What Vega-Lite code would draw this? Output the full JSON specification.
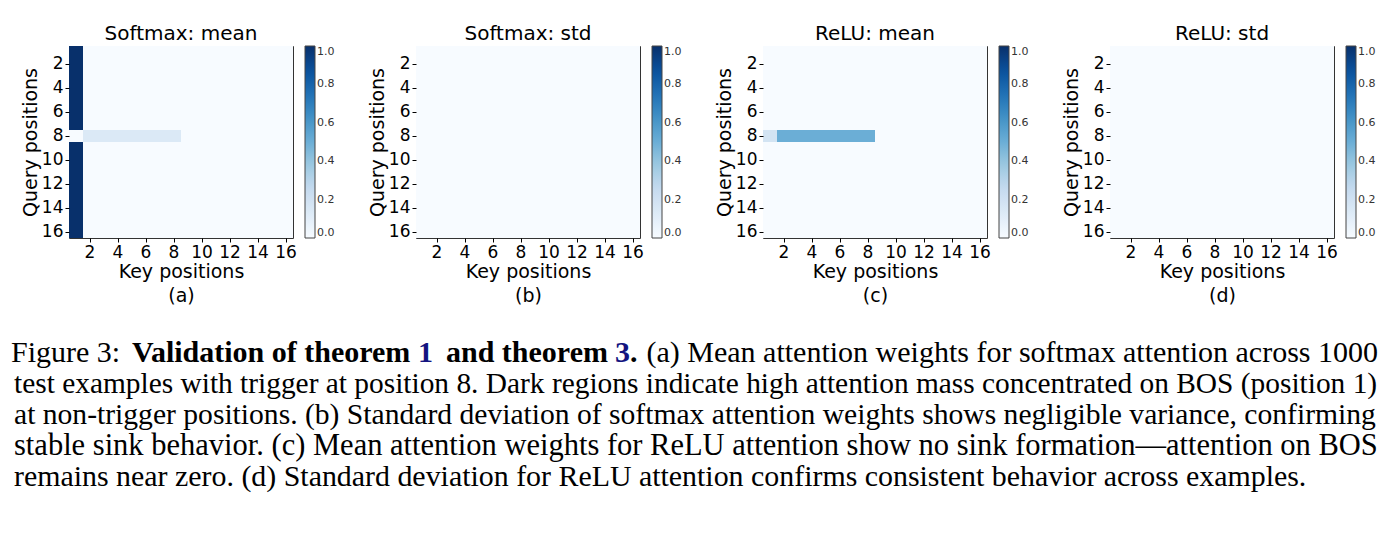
{
"$schema":"https://vega.github.io/schema/vega-lite/v6.json",
"background":"white",
"padding":{"left":11,"top":23,"right":5,"bottom":5},
"config":{
 "font":"DejaVu Sans",
 "view":{"stroke":"#333","strokeWidth":1},
 "title":{"font":"DejaVu Sans","fontSize":20,"fontWeight":"normal","color":"#000","offset":2},
 "axis":{"labelFont":"DejaVu Sans","titleFont":"DejaVu Sans","labelFontSize":17,"titleFontSize":19,"titleFontWeight":"normal","labelColor":"#000","titleColor":"#000","tickColor":"#000","tickSize":4,"domain":false,"grid":false,"labelPadding":2},
 "legend":{"labelFont":"DejaVu Sans","labelFontSize":11,"labelColor":"#333","gradientLength":192,"gradientThickness":10,"offset":12,"gradientStrokeColor":"#444","gradientStrokeWidth":1,"labelOffset":4}
},
"datasets":{
"sm_mean":[
{"q":1,"k":1,"v":1},{"q":1,"k":2,"v":0},{"q":1,"k":3,"v":0},{"q":1,"k":4,"v":0},{"q":1,"k":5,"v":0},{"q":1,"k":6,"v":0},{"q":1,"k":7,"v":0},{"q":1,"k":8,"v":0},{"q":1,"k":9,"v":0},{"q":1,"k":10,"v":0},{"q":1,"k":11,"v":0},{"q":1,"k":12,"v":0},{"q":1,"k":13,"v":0},{"q":1,"k":14,"v":0},{"q":1,"k":15,"v":0},{"q":1,"k":16,"v":0},
{"q":2,"k":1,"v":1},{"q":2,"k":2,"v":0},{"q":2,"k":3,"v":0},{"q":2,"k":4,"v":0},{"q":2,"k":5,"v":0},{"q":2,"k":6,"v":0},{"q":2,"k":7,"v":0},{"q":2,"k":8,"v":0},{"q":2,"k":9,"v":0},{"q":2,"k":10,"v":0},{"q":2,"k":11,"v":0},{"q":2,"k":12,"v":0},{"q":2,"k":13,"v":0},{"q":2,"k":14,"v":0},{"q":2,"k":15,"v":0},{"q":2,"k":16,"v":0},
{"q":3,"k":1,"v":1},{"q":3,"k":2,"v":0},{"q":3,"k":3,"v":0},{"q":3,"k":4,"v":0},{"q":3,"k":5,"v":0},{"q":3,"k":6,"v":0},{"q":3,"k":7,"v":0},{"q":3,"k":8,"v":0},{"q":3,"k":9,"v":0},{"q":3,"k":10,"v":0},{"q":3,"k":11,"v":0},{"q":3,"k":12,"v":0},{"q":3,"k":13,"v":0},{"q":3,"k":14,"v":0},{"q":3,"k":15,"v":0},{"q":3,"k":16,"v":0},
{"q":4,"k":1,"v":1},{"q":4,"k":2,"v":0},{"q":4,"k":3,"v":0},{"q":4,"k":4,"v":0},{"q":4,"k":5,"v":0},{"q":4,"k":6,"v":0},{"q":4,"k":7,"v":0},{"q":4,"k":8,"v":0},{"q":4,"k":9,"v":0},{"q":4,"k":10,"v":0},{"q":4,"k":11,"v":0},{"q":4,"k":12,"v":0},{"q":4,"k":13,"v":0},{"q":4,"k":14,"v":0},{"q":4,"k":15,"v":0},{"q":4,"k":16,"v":0},
{"q":5,"k":1,"v":1},{"q":5,"k":2,"v":0},{"q":5,"k":3,"v":0},{"q":5,"k":4,"v":0},{"q":5,"k":5,"v":0},{"q":5,"k":6,"v":0},{"q":5,"k":7,"v":0},{"q":5,"k":8,"v":0},{"q":5,"k":9,"v":0},{"q":5,"k":10,"v":0},{"q":5,"k":11,"v":0},{"q":5,"k":12,"v":0},{"q":5,"k":13,"v":0},{"q":5,"k":14,"v":0},{"q":5,"k":15,"v":0},{"q":5,"k":16,"v":0},
{"q":6,"k":1,"v":1},{"q":6,"k":2,"v":0},{"q":6,"k":3,"v":0},{"q":6,"k":4,"v":0},{"q":6,"k":5,"v":0},{"q":6,"k":6,"v":0},{"q":6,"k":7,"v":0},{"q":6,"k":8,"v":0},{"q":6,"k":9,"v":0},{"q":6,"k":10,"v":0},{"q":6,"k":11,"v":0},{"q":6,"k":12,"v":0},{"q":6,"k":13,"v":0},{"q":6,"k":14,"v":0},{"q":6,"k":15,"v":0},{"q":6,"k":16,"v":0},
{"q":7,"k":1,"v":1},{"q":7,"k":2,"v":0},{"q":7,"k":3,"v":0},{"q":7,"k":4,"v":0},{"q":7,"k":5,"v":0},{"q":7,"k":6,"v":0},{"q":7,"k":7,"v":0},{"q":7,"k":8,"v":0},{"q":7,"k":9,"v":0},{"q":7,"k":10,"v":0},{"q":7,"k":11,"v":0},{"q":7,"k":12,"v":0},{"q":7,"k":13,"v":0},{"q":7,"k":14,"v":0},{"q":7,"k":15,"v":0},{"q":7,"k":16,"v":0},
{"q":8,"k":1,"v":0},{"q":8,"k":2,"v":0.143},{"q":8,"k":3,"v":0.143},{"q":8,"k":4,"v":0.143},{"q":8,"k":5,"v":0.143},{"q":8,"k":6,"v":0.143},{"q":8,"k":7,"v":0.143},{"q":8,"k":8,"v":0.143},{"q":8,"k":9,"v":0},{"q":8,"k":10,"v":0},{"q":8,"k":11,"v":0},{"q":8,"k":12,"v":0},{"q":8,"k":13,"v":0},{"q":8,"k":14,"v":0},{"q":8,"k":15,"v":0},{"q":8,"k":16,"v":0},
{"q":9,"k":1,"v":1},{"q":9,"k":2,"v":0},{"q":9,"k":3,"v":0},{"q":9,"k":4,"v":0},{"q":9,"k":5,"v":0},{"q":9,"k":6,"v":0},{"q":9,"k":7,"v":0},{"q":9,"k":8,"v":0},{"q":9,"k":9,"v":0},{"q":9,"k":10,"v":0},{"q":9,"k":11,"v":0},{"q":9,"k":12,"v":0},{"q":9,"k":13,"v":0},{"q":9,"k":14,"v":0},{"q":9,"k":15,"v":0},{"q":9,"k":16,"v":0},
{"q":10,"k":1,"v":1},{"q":10,"k":2,"v":0},{"q":10,"k":3,"v":0},{"q":10,"k":4,"v":0},{"q":10,"k":5,"v":0},{"q":10,"k":6,"v":0},{"q":10,"k":7,"v":0},{"q":10,"k":8,"v":0},{"q":10,"k":9,"v":0},{"q":10,"k":10,"v":0},{"q":10,"k":11,"v":0},{"q":10,"k":12,"v":0},{"q":10,"k":13,"v":0},{"q":10,"k":14,"v":0},{"q":10,"k":15,"v":0},{"q":10,"k":16,"v":0},
{"q":11,"k":1,"v":1},{"q":11,"k":2,"v":0},{"q":11,"k":3,"v":0},{"q":11,"k":4,"v":0},{"q":11,"k":5,"v":0},{"q":11,"k":6,"v":0},{"q":11,"k":7,"v":0},{"q":11,"k":8,"v":0},{"q":11,"k":9,"v":0},{"q":11,"k":10,"v":0},{"q":11,"k":11,"v":0},{"q":11,"k":12,"v":0},{"q":11,"k":13,"v":0},{"q":11,"k":14,"v":0},{"q":11,"k":15,"v":0},{"q":11,"k":16,"v":0},
{"q":12,"k":1,"v":1},{"q":12,"k":2,"v":0},{"q":12,"k":3,"v":0},{"q":12,"k":4,"v":0},{"q":12,"k":5,"v":0},{"q":12,"k":6,"v":0},{"q":12,"k":7,"v":0},{"q":12,"k":8,"v":0},{"q":12,"k":9,"v":0},{"q":12,"k":10,"v":0},{"q":12,"k":11,"v":0},{"q":12,"k":12,"v":0},{"q":12,"k":13,"v":0},{"q":12,"k":14,"v":0},{"q":12,"k":15,"v":0},{"q":12,"k":16,"v":0},
{"q":13,"k":1,"v":1},{"q":13,"k":2,"v":0},{"q":13,"k":3,"v":0},{"q":13,"k":4,"v":0},{"q":13,"k":5,"v":0},{"q":13,"k":6,"v":0},{"q":13,"k":7,"v":0},{"q":13,"k":8,"v":0},{"q":13,"k":9,"v":0},{"q":13,"k":10,"v":0},{"q":13,"k":11,"v":0},{"q":13,"k":12,"v":0},{"q":13,"k":13,"v":0},{"q":13,"k":14,"v":0},{"q":13,"k":15,"v":0},{"q":13,"k":16,"v":0},
{"q":14,"k":1,"v":1},{"q":14,"k":2,"v":0},{"q":14,"k":3,"v":0},{"q":14,"k":4,"v":0},{"q":14,"k":5,"v":0},{"q":14,"k":6,"v":0},{"q":14,"k":7,"v":0},{"q":14,"k":8,"v":0},{"q":14,"k":9,"v":0},{"q":14,"k":10,"v":0},{"q":14,"k":11,"v":0},{"q":14,"k":12,"v":0},{"q":14,"k":13,"v":0},{"q":14,"k":14,"v":0},{"q":14,"k":15,"v":0},{"q":14,"k":16,"v":0},
{"q":15,"k":1,"v":1},{"q":15,"k":2,"v":0},{"q":15,"k":3,"v":0},{"q":15,"k":4,"v":0},{"q":15,"k":5,"v":0},{"q":15,"k":6,"v":0},{"q":15,"k":7,"v":0},{"q":15,"k":8,"v":0},{"q":15,"k":9,"v":0},{"q":15,"k":10,"v":0},{"q":15,"k":11,"v":0},{"q":15,"k":12,"v":0},{"q":15,"k":13,"v":0},{"q":15,"k":14,"v":0},{"q":15,"k":15,"v":0},{"q":15,"k":16,"v":0},
{"q":16,"k":1,"v":1},{"q":16,"k":2,"v":0},{"q":16,"k":3,"v":0},{"q":16,"k":4,"v":0},{"q":16,"k":5,"v":0},{"q":16,"k":6,"v":0},{"q":16,"k":7,"v":0},{"q":16,"k":8,"v":0},{"q":16,"k":9,"v":0},{"q":16,"k":10,"v":0},{"q":16,"k":11,"v":0},{"q":16,"k":12,"v":0},{"q":16,"k":13,"v":0},{"q":16,"k":14,"v":0},{"q":16,"k":15,"v":0},{"q":16,"k":16,"v":0}
],
"sm_std":[
{"q":1,"k":1,"v":0},{"q":1,"k":2,"v":0},{"q":1,"k":3,"v":0},{"q":1,"k":4,"v":0},{"q":1,"k":5,"v":0},{"q":1,"k":6,"v":0},{"q":1,"k":7,"v":0},{"q":1,"k":8,"v":0},{"q":1,"k":9,"v":0},{"q":1,"k":10,"v":0},{"q":1,"k":11,"v":0},{"q":1,"k":12,"v":0},{"q":1,"k":13,"v":0},{"q":1,"k":14,"v":0},{"q":1,"k":15,"v":0},{"q":1,"k":16,"v":0},
{"q":2,"k":1,"v":0},{"q":2,"k":2,"v":0},{"q":2,"k":3,"v":0},{"q":2,"k":4,"v":0},{"q":2,"k":5,"v":0},{"q":2,"k":6,"v":0},{"q":2,"k":7,"v":0},{"q":2,"k":8,"v":0},{"q":2,"k":9,"v":0},{"q":2,"k":10,"v":0},{"q":2,"k":11,"v":0},{"q":2,"k":12,"v":0},{"q":2,"k":13,"v":0},{"q":2,"k":14,"v":0},{"q":2,"k":15,"v":0},{"q":2,"k":16,"v":0},
{"q":3,"k":1,"v":0},{"q":3,"k":2,"v":0},{"q":3,"k":3,"v":0},{"q":3,"k":4,"v":0},{"q":3,"k":5,"v":0},{"q":3,"k":6,"v":0},{"q":3,"k":7,"v":0},{"q":3,"k":8,"v":0},{"q":3,"k":9,"v":0},{"q":3,"k":10,"v":0},{"q":3,"k":11,"v":0},{"q":3,"k":12,"v":0},{"q":3,"k":13,"v":0},{"q":3,"k":14,"v":0},{"q":3,"k":15,"v":0},{"q":3,"k":16,"v":0},
{"q":4,"k":1,"v":0},{"q":4,"k":2,"v":0},{"q":4,"k":3,"v":0},{"q":4,"k":4,"v":0},{"q":4,"k":5,"v":0},{"q":4,"k":6,"v":0},{"q":4,"k":7,"v":0},{"q":4,"k":8,"v":0},{"q":4,"k":9,"v":0},{"q":4,"k":10,"v":0},{"q":4,"k":11,"v":0},{"q":4,"k":12,"v":0},{"q":4,"k":13,"v":0},{"q":4,"k":14,"v":0},{"q":4,"k":15,"v":0},{"q":4,"k":16,"v":0},
{"q":5,"k":1,"v":0},{"q":5,"k":2,"v":0},{"q":5,"k":3,"v":0},{"q":5,"k":4,"v":0},{"q":5,"k":5,"v":0},{"q":5,"k":6,"v":0},{"q":5,"k":7,"v":0},{"q":5,"k":8,"v":0},{"q":5,"k":9,"v":0},{"q":5,"k":10,"v":0},{"q":5,"k":11,"v":0},{"q":5,"k":12,"v":0},{"q":5,"k":13,"v":0},{"q":5,"k":14,"v":0},{"q":5,"k":15,"v":0},{"q":5,"k":16,"v":0},
{"q":6,"k":1,"v":0},{"q":6,"k":2,"v":0},{"q":6,"k":3,"v":0},{"q":6,"k":4,"v":0},{"q":6,"k":5,"v":0},{"q":6,"k":6,"v":0},{"q":6,"k":7,"v":0},{"q":6,"k":8,"v":0},{"q":6,"k":9,"v":0},{"q":6,"k":10,"v":0},{"q":6,"k":11,"v":0},{"q":6,"k":12,"v":0},{"q":6,"k":13,"v":0},{"q":6,"k":14,"v":0},{"q":6,"k":15,"v":0},{"q":6,"k":16,"v":0},
{"q":7,"k":1,"v":0},{"q":7,"k":2,"v":0},{"q":7,"k":3,"v":0},{"q":7,"k":4,"v":0},{"q":7,"k":5,"v":0},{"q":7,"k":6,"v":0},{"q":7,"k":7,"v":0},{"q":7,"k":8,"v":0},{"q":7,"k":9,"v":0},{"q":7,"k":10,"v":0},{"q":7,"k":11,"v":0},{"q":7,"k":12,"v":0},{"q":7,"k":13,"v":0},{"q":7,"k":14,"v":0},{"q":7,"k":15,"v":0},{"q":7,"k":16,"v":0},
{"q":8,"k":1,"v":0},{"q":8,"k":2,"v":0},{"q":8,"k":3,"v":0},{"q":8,"k":4,"v":0},{"q":8,"k":5,"v":0},{"q":8,"k":6,"v":0},{"q":8,"k":7,"v":0},{"q":8,"k":8,"v":0},{"q":8,"k":9,"v":0},{"q":8,"k":10,"v":0},{"q":8,"k":11,"v":0},{"q":8,"k":12,"v":0},{"q":8,"k":13,"v":0},{"q":8,"k":14,"v":0},{"q":8,"k":15,"v":0},{"q":8,"k":16,"v":0},
{"q":9,"k":1,"v":0},{"q":9,"k":2,"v":0},{"q":9,"k":3,"v":0},{"q":9,"k":4,"v":0},{"q":9,"k":5,"v":0},{"q":9,"k":6,"v":0},{"q":9,"k":7,"v":0},{"q":9,"k":8,"v":0},{"q":9,"k":9,"v":0},{"q":9,"k":10,"v":0},{"q":9,"k":11,"v":0},{"q":9,"k":12,"v":0},{"q":9,"k":13,"v":0},{"q":9,"k":14,"v":0},{"q":9,"k":15,"v":0},{"q":9,"k":16,"v":0},
{"q":10,"k":1,"v":0},{"q":10,"k":2,"v":0},{"q":10,"k":3,"v":0},{"q":10,"k":4,"v":0},{"q":10,"k":5,"v":0},{"q":10,"k":6,"v":0},{"q":10,"k":7,"v":0},{"q":10,"k":8,"v":0},{"q":10,"k":9,"v":0},{"q":10,"k":10,"v":0},{"q":10,"k":11,"v":0},{"q":10,"k":12,"v":0},{"q":10,"k":13,"v":0},{"q":10,"k":14,"v":0},{"q":10,"k":15,"v":0},{"q":10,"k":16,"v":0},
{"q":11,"k":1,"v":0},{"q":11,"k":2,"v":0},{"q":11,"k":3,"v":0},{"q":11,"k":4,"v":0},{"q":11,"k":5,"v":0},{"q":11,"k":6,"v":0},{"q":11,"k":7,"v":0},{"q":11,"k":8,"v":0},{"q":11,"k":9,"v":0},{"q":11,"k":10,"v":0},{"q":11,"k":11,"v":0},{"q":11,"k":12,"v":0},{"q":11,"k":13,"v":0},{"q":11,"k":14,"v":0},{"q":11,"k":15,"v":0},{"q":11,"k":16,"v":0},
{"q":12,"k":1,"v":0},{"q":12,"k":2,"v":0},{"q":12,"k":3,"v":0},{"q":12,"k":4,"v":0},{"q":12,"k":5,"v":0},{"q":12,"k":6,"v":0},{"q":12,"k":7,"v":0},{"q":12,"k":8,"v":0},{"q":12,"k":9,"v":0},{"q":12,"k":10,"v":0},{"q":12,"k":11,"v":0},{"q":12,"k":12,"v":0},{"q":12,"k":13,"v":0},{"q":12,"k":14,"v":0},{"q":12,"k":15,"v":0},{"q":12,"k":16,"v":0},
{"q":13,"k":1,"v":0},{"q":13,"k":2,"v":0},{"q":13,"k":3,"v":0},{"q":13,"k":4,"v":0},{"q":13,"k":5,"v":0},{"q":13,"k":6,"v":0},{"q":13,"k":7,"v":0},{"q":13,"k":8,"v":0},{"q":13,"k":9,"v":0},{"q":13,"k":10,"v":0},{"q":13,"k":11,"v":0},{"q":13,"k":12,"v":0},{"q":13,"k":13,"v":0},{"q":13,"k":14,"v":0},{"q":13,"k":15,"v":0},{"q":13,"k":16,"v":0},
{"q":14,"k":1,"v":0},{"q":14,"k":2,"v":0},{"q":14,"k":3,"v":0},{"q":14,"k":4,"v":0},{"q":14,"k":5,"v":0},{"q":14,"k":6,"v":0},{"q":14,"k":7,"v":0},{"q":14,"k":8,"v":0},{"q":14,"k":9,"v":0},{"q":14,"k":10,"v":0},{"q":14,"k":11,"v":0},{"q":14,"k":12,"v":0},{"q":14,"k":13,"v":0},{"q":14,"k":14,"v":0},{"q":14,"k":15,"v":0},{"q":14,"k":16,"v":0},
{"q":15,"k":1,"v":0},{"q":15,"k":2,"v":0},{"q":15,"k":3,"v":0},{"q":15,"k":4,"v":0},{"q":15,"k":5,"v":0},{"q":15,"k":6,"v":0},{"q":15,"k":7,"v":0},{"q":15,"k":8,"v":0},{"q":15,"k":9,"v":0},{"q":15,"k":10,"v":0},{"q":15,"k":11,"v":0},{"q":15,"k":12,"v":0},{"q":15,"k":13,"v":0},{"q":15,"k":14,"v":0},{"q":15,"k":15,"v":0},{"q":15,"k":16,"v":0},
{"q":16,"k":1,"v":0},{"q":16,"k":2,"v":0},{"q":16,"k":3,"v":0},{"q":16,"k":4,"v":0},{"q":16,"k":5,"v":0},{"q":16,"k":6,"v":0},{"q":16,"k":7,"v":0},{"q":16,"k":8,"v":0},{"q":16,"k":9,"v":0},{"q":16,"k":10,"v":0},{"q":16,"k":11,"v":0},{"q":16,"k":12,"v":0},{"q":16,"k":13,"v":0},{"q":16,"k":14,"v":0},{"q":16,"k":15,"v":0},{"q":16,"k":16,"v":0}
],
"relu_mean":[
{"q":1,"k":1,"v":0},{"q":1,"k":2,"v":0},{"q":1,"k":3,"v":0},{"q":1,"k":4,"v":0},{"q":1,"k":5,"v":0},{"q":1,"k":6,"v":0},{"q":1,"k":7,"v":0},{"q":1,"k":8,"v":0},{"q":1,"k":9,"v":0},{"q":1,"k":10,"v":0},{"q":1,"k":11,"v":0},{"q":1,"k":12,"v":0},{"q":1,"k":13,"v":0},{"q":1,"k":14,"v":0},{"q":1,"k":15,"v":0},{"q":1,"k":16,"v":0},
{"q":2,"k":1,"v":0},{"q":2,"k":2,"v":0},{"q":2,"k":3,"v":0},{"q":2,"k":4,"v":0},{"q":2,"k":5,"v":0},{"q":2,"k":6,"v":0},{"q":2,"k":7,"v":0},{"q":2,"k":8,"v":0},{"q":2,"k":9,"v":0},{"q":2,"k":10,"v":0},{"q":2,"k":11,"v":0},{"q":2,"k":12,"v":0},{"q":2,"k":13,"v":0},{"q":2,"k":14,"v":0},{"q":2,"k":15,"v":0},{"q":2,"k":16,"v":0},
{"q":3,"k":1,"v":0},{"q":3,"k":2,"v":0},{"q":3,"k":3,"v":0},{"q":3,"k":4,"v":0},{"q":3,"k":5,"v":0},{"q":3,"k":6,"v":0},{"q":3,"k":7,"v":0},{"q":3,"k":8,"v":0},{"q":3,"k":9,"v":0},{"q":3,"k":10,"v":0},{"q":3,"k":11,"v":0},{"q":3,"k":12,"v":0},{"q":3,"k":13,"v":0},{"q":3,"k":14,"v":0},{"q":3,"k":15,"v":0},{"q":3,"k":16,"v":0},
{"q":4,"k":1,"v":0},{"q":4,"k":2,"v":0},{"q":4,"k":3,"v":0},{"q":4,"k":4,"v":0},{"q":4,"k":5,"v":0},{"q":4,"k":6,"v":0},{"q":4,"k":7,"v":0},{"q":4,"k":8,"v":0},{"q":4,"k":9,"v":0},{"q":4,"k":10,"v":0},{"q":4,"k":11,"v":0},{"q":4,"k":12,"v":0},{"q":4,"k":13,"v":0},{"q":4,"k":14,"v":0},{"q":4,"k":15,"v":0},{"q":4,"k":16,"v":0},
{"q":5,"k":1,"v":0},{"q":5,"k":2,"v":0},{"q":5,"k":3,"v":0},{"q":5,"k":4,"v":0},{"q":5,"k":5,"v":0},{"q":5,"k":6,"v":0},{"q":5,"k":7,"v":0},{"q":5,"k":8,"v":0},{"q":5,"k":9,"v":0},{"q":5,"k":10,"v":0},{"q":5,"k":11,"v":0},{"q":5,"k":12,"v":0},{"q":5,"k":13,"v":0},{"q":5,"k":14,"v":0},{"q":5,"k":15,"v":0},{"q":5,"k":16,"v":0},
{"q":6,"k":1,"v":0},{"q":6,"k":2,"v":0},{"q":6,"k":3,"v":0},{"q":6,"k":4,"v":0},{"q":6,"k":5,"v":0},{"q":6,"k":6,"v":0},{"q":6,"k":7,"v":0},{"q":6,"k":8,"v":0},{"q":6,"k":9,"v":0},{"q":6,"k":10,"v":0},{"q":6,"k":11,"v":0},{"q":6,"k":12,"v":0},{"q":6,"k":13,"v":0},{"q":6,"k":14,"v":0},{"q":6,"k":15,"v":0},{"q":6,"k":16,"v":0},
{"q":7,"k":1,"v":0},{"q":7,"k":2,"v":0},{"q":7,"k":3,"v":0},{"q":7,"k":4,"v":0},{"q":7,"k":5,"v":0},{"q":7,"k":6,"v":0},{"q":7,"k":7,"v":0},{"q":7,"k":8,"v":0},{"q":7,"k":9,"v":0},{"q":7,"k":10,"v":0},{"q":7,"k":11,"v":0},{"q":7,"k":12,"v":0},{"q":7,"k":13,"v":0},{"q":7,"k":14,"v":0},{"q":7,"k":15,"v":0},{"q":7,"k":16,"v":0},
{"q":8,"k":1,"v":0.18},{"q":8,"k":2,"v":0.5},{"q":8,"k":3,"v":0.5},{"q":8,"k":4,"v":0.5},{"q":8,"k":5,"v":0.5},{"q":8,"k":6,"v":0.5},{"q":8,"k":7,"v":0.5},{"q":8,"k":8,"v":0.5},{"q":8,"k":9,"v":0},{"q":8,"k":10,"v":0},{"q":8,"k":11,"v":0},{"q":8,"k":12,"v":0},{"q":8,"k":13,"v":0},{"q":8,"k":14,"v":0},{"q":8,"k":15,"v":0},{"q":8,"k":16,"v":0},
{"q":9,"k":1,"v":0},{"q":9,"k":2,"v":0},{"q":9,"k":3,"v":0},{"q":9,"k":4,"v":0},{"q":9,"k":5,"v":0},{"q":9,"k":6,"v":0},{"q":9,"k":7,"v":0},{"q":9,"k":8,"v":0},{"q":9,"k":9,"v":0},{"q":9,"k":10,"v":0},{"q":9,"k":11,"v":0},{"q":9,"k":12,"v":0},{"q":9,"k":13,"v":0},{"q":9,"k":14,"v":0},{"q":9,"k":15,"v":0},{"q":9,"k":16,"v":0},
{"q":10,"k":1,"v":0},{"q":10,"k":2,"v":0},{"q":10,"k":3,"v":0},{"q":10,"k":4,"v":0},{"q":10,"k":5,"v":0},{"q":10,"k":6,"v":0},{"q":10,"k":7,"v":0},{"q":10,"k":8,"v":0},{"q":10,"k":9,"v":0},{"q":10,"k":10,"v":0},{"q":10,"k":11,"v":0},{"q":10,"k":12,"v":0},{"q":10,"k":13,"v":0},{"q":10,"k":14,"v":0},{"q":10,"k":15,"v":0},{"q":10,"k":16,"v":0},
{"q":11,"k":1,"v":0},{"q":11,"k":2,"v":0},{"q":11,"k":3,"v":0},{"q":11,"k":4,"v":0},{"q":11,"k":5,"v":0},{"q":11,"k":6,"v":0},{"q":11,"k":7,"v":0},{"q":11,"k":8,"v":0},{"q":11,"k":9,"v":0},{"q":11,"k":10,"v":0},{"q":11,"k":11,"v":0},{"q":11,"k":12,"v":0},{"q":11,"k":13,"v":0},{"q":11,"k":14,"v":0},{"q":11,"k":15,"v":0},{"q":11,"k":16,"v":0},
{"q":12,"k":1,"v":0},{"q":12,"k":2,"v":0},{"q":12,"k":3,"v":0},{"q":12,"k":4,"v":0},{"q":12,"k":5,"v":0},{"q":12,"k":6,"v":0},{"q":12,"k":7,"v":0},{"q":12,"k":8,"v":0},{"q":12,"k":9,"v":0},{"q":12,"k":10,"v":0},{"q":12,"k":11,"v":0},{"q":12,"k":12,"v":0},{"q":12,"k":13,"v":0},{"q":12,"k":14,"v":0},{"q":12,"k":15,"v":0},{"q":12,"k":16,"v":0},
{"q":13,"k":1,"v":0},{"q":13,"k":2,"v":0},{"q":13,"k":3,"v":0},{"q":13,"k":4,"v":0},{"q":13,"k":5,"v":0},{"q":13,"k":6,"v":0},{"q":13,"k":7,"v":0},{"q":13,"k":8,"v":0},{"q":13,"k":9,"v":0},{"q":13,"k":10,"v":0},{"q":13,"k":11,"v":0},{"q":13,"k":12,"v":0},{"q":13,"k":13,"v":0},{"q":13,"k":14,"v":0},{"q":13,"k":15,"v":0},{"q":13,"k":16,"v":0},
{"q":14,"k":1,"v":0},{"q":14,"k":2,"v":0},{"q":14,"k":3,"v":0},{"q":14,"k":4,"v":0},{"q":14,"k":5,"v":0},{"q":14,"k":6,"v":0},{"q":14,"k":7,"v":0},{"q":14,"k":8,"v":0},{"q":14,"k":9,"v":0},{"q":14,"k":10,"v":0},{"q":14,"k":11,"v":0},{"q":14,"k":12,"v":0},{"q":14,"k":13,"v":0},{"q":14,"k":14,"v":0},{"q":14,"k":15,"v":0},{"q":14,"k":16,"v":0},
{"q":15,"k":1,"v":0},{"q":15,"k":2,"v":0},{"q":15,"k":3,"v":0},{"q":15,"k":4,"v":0},{"q":15,"k":5,"v":0},{"q":15,"k":6,"v":0},{"q":15,"k":7,"v":0},{"q":15,"k":8,"v":0},{"q":15,"k":9,"v":0},{"q":15,"k":10,"v":0},{"q":15,"k":11,"v":0},{"q":15,"k":12,"v":0},{"q":15,"k":13,"v":0},{"q":15,"k":14,"v":0},{"q":15,"k":15,"v":0},{"q":15,"k":16,"v":0},
{"q":16,"k":1,"v":0},{"q":16,"k":2,"v":0},{"q":16,"k":3,"v":0},{"q":16,"k":4,"v":0},{"q":16,"k":5,"v":0},{"q":16,"k":6,"v":0},{"q":16,"k":7,"v":0},{"q":16,"k":8,"v":0},{"q":16,"k":9,"v":0},{"q":16,"k":10,"v":0},{"q":16,"k":11,"v":0},{"q":16,"k":12,"v":0},{"q":16,"k":13,"v":0},{"q":16,"k":14,"v":0},{"q":16,"k":15,"v":0},{"q":16,"k":16,"v":0}
],
"relu_std":[
{"q":1,"k":1,"v":0},{"q":1,"k":2,"v":0},{"q":1,"k":3,"v":0},{"q":1,"k":4,"v":0},{"q":1,"k":5,"v":0},{"q":1,"k":6,"v":0},{"q":1,"k":7,"v":0},{"q":1,"k":8,"v":0},{"q":1,"k":9,"v":0},{"q":1,"k":10,"v":0},{"q":1,"k":11,"v":0},{"q":1,"k":12,"v":0},{"q":1,"k":13,"v":0},{"q":1,"k":14,"v":0},{"q":1,"k":15,"v":0},{"q":1,"k":16,"v":0},
{"q":2,"k":1,"v":0},{"q":2,"k":2,"v":0},{"q":2,"k":3,"v":0},{"q":2,"k":4,"v":0},{"q":2,"k":5,"v":0},{"q":2,"k":6,"v":0},{"q":2,"k":7,"v":0},{"q":2,"k":8,"v":0},{"q":2,"k":9,"v":0},{"q":2,"k":10,"v":0},{"q":2,"k":11,"v":0},{"q":2,"k":12,"v":0},{"q":2,"k":13,"v":0},{"q":2,"k":14,"v":0},{"q":2,"k":15,"v":0},{"q":2,"k":16,"v":0},
{"q":3,"k":1,"v":0},{"q":3,"k":2,"v":0},{"q":3,"k":3,"v":0},{"q":3,"k":4,"v":0},{"q":3,"k":5,"v":0},{"q":3,"k":6,"v":0},{"q":3,"k":7,"v":0},{"q":3,"k":8,"v":0},{"q":3,"k":9,"v":0},{"q":3,"k":10,"v":0},{"q":3,"k":11,"v":0},{"q":3,"k":12,"v":0},{"q":3,"k":13,"v":0},{"q":3,"k":14,"v":0},{"q":3,"k":15,"v":0},{"q":3,"k":16,"v":0},
{"q":4,"k":1,"v":0},{"q":4,"k":2,"v":0},{"q":4,"k":3,"v":0},{"q":4,"k":4,"v":0},{"q":4,"k":5,"v":0},{"q":4,"k":6,"v":0},{"q":4,"k":7,"v":0},{"q":4,"k":8,"v":0},{"q":4,"k":9,"v":0},{"q":4,"k":10,"v":0},{"q":4,"k":11,"v":0},{"q":4,"k":12,"v":0},{"q":4,"k":13,"v":0},{"q":4,"k":14,"v":0},{"q":4,"k":15,"v":0},{"q":4,"k":16,"v":0},
{"q":5,"k":1,"v":0},{"q":5,"k":2,"v":0},{"q":5,"k":3,"v":0},{"q":5,"k":4,"v":0},{"q":5,"k":5,"v":0},{"q":5,"k":6,"v":0},{"q":5,"k":7,"v":0},{"q":5,"k":8,"v":0},{"q":5,"k":9,"v":0},{"q":5,"k":10,"v":0},{"q":5,"k":11,"v":0},{"q":5,"k":12,"v":0},{"q":5,"k":13,"v":0},{"q":5,"k":14,"v":0},{"q":5,"k":15,"v":0},{"q":5,"k":16,"v":0},
{"q":6,"k":1,"v":0},{"q":6,"k":2,"v":0},{"q":6,"k":3,"v":0},{"q":6,"k":4,"v":0},{"q":6,"k":5,"v":0},{"q":6,"k":6,"v":0},{"q":6,"k":7,"v":0},{"q":6,"k":8,"v":0},{"q":6,"k":9,"v":0},{"q":6,"k":10,"v":0},{"q":6,"k":11,"v":0},{"q":6,"k":12,"v":0},{"q":6,"k":13,"v":0},{"q":6,"k":14,"v":0},{"q":6,"k":15,"v":0},{"q":6,"k":16,"v":0},
{"q":7,"k":1,"v":0},{"q":7,"k":2,"v":0},{"q":7,"k":3,"v":0},{"q":7,"k":4,"v":0},{"q":7,"k":5,"v":0},{"q":7,"k":6,"v":0},{"q":7,"k":7,"v":0},{"q":7,"k":8,"v":0},{"q":7,"k":9,"v":0},{"q":7,"k":10,"v":0},{"q":7,"k":11,"v":0},{"q":7,"k":12,"v":0},{"q":7,"k":13,"v":0},{"q":7,"k":14,"v":0},{"q":7,"k":15,"v":0},{"q":7,"k":16,"v":0},
{"q":8,"k":1,"v":0},{"q":8,"k":2,"v":0},{"q":8,"k":3,"v":0},{"q":8,"k":4,"v":0},{"q":8,"k":5,"v":0},{"q":8,"k":6,"v":0},{"q":8,"k":7,"v":0},{"q":8,"k":8,"v":0},{"q":8,"k":9,"v":0},{"q":8,"k":10,"v":0},{"q":8,"k":11,"v":0},{"q":8,"k":12,"v":0},{"q":8,"k":13,"v":0},{"q":8,"k":14,"v":0},{"q":8,"k":15,"v":0},{"q":8,"k":16,"v":0},
{"q":9,"k":1,"v":0},{"q":9,"k":2,"v":0},{"q":9,"k":3,"v":0},{"q":9,"k":4,"v":0},{"q":9,"k":5,"v":0},{"q":9,"k":6,"v":0},{"q":9,"k":7,"v":0},{"q":9,"k":8,"v":0},{"q":9,"k":9,"v":0},{"q":9,"k":10,"v":0},{"q":9,"k":11,"v":0},{"q":9,"k":12,"v":0},{"q":9,"k":13,"v":0},{"q":9,"k":14,"v":0},{"q":9,"k":15,"v":0},{"q":9,"k":16,"v":0},
{"q":10,"k":1,"v":0},{"q":10,"k":2,"v":0},{"q":10,"k":3,"v":0},{"q":10,"k":4,"v":0},{"q":10,"k":5,"v":0},{"q":10,"k":6,"v":0},{"q":10,"k":7,"v":0},{"q":10,"k":8,"v":0},{"q":10,"k":9,"v":0},{"q":10,"k":10,"v":0},{"q":10,"k":11,"v":0},{"q":10,"k":12,"v":0},{"q":10,"k":13,"v":0},{"q":10,"k":14,"v":0},{"q":10,"k":15,"v":0},{"q":10,"k":16,"v":0},
{"q":11,"k":1,"v":0},{"q":11,"k":2,"v":0},{"q":11,"k":3,"v":0},{"q":11,"k":4,"v":0},{"q":11,"k":5,"v":0},{"q":11,"k":6,"v":0},{"q":11,"k":7,"v":0},{"q":11,"k":8,"v":0},{"q":11,"k":9,"v":0},{"q":11,"k":10,"v":0},{"q":11,"k":11,"v":0},{"q":11,"k":12,"v":0},{"q":11,"k":13,"v":0},{"q":11,"k":14,"v":0},{"q":11,"k":15,"v":0},{"q":11,"k":16,"v":0},
{"q":12,"k":1,"v":0},{"q":12,"k":2,"v":0},{"q":12,"k":3,"v":0},{"q":12,"k":4,"v":0},{"q":12,"k":5,"v":0},{"q":12,"k":6,"v":0},{"q":12,"k":7,"v":0},{"q":12,"k":8,"v":0},{"q":12,"k":9,"v":0},{"q":12,"k":10,"v":0},{"q":12,"k":11,"v":0},{"q":12,"k":12,"v":0},{"q":12,"k":13,"v":0},{"q":12,"k":14,"v":0},{"q":12,"k":15,"v":0},{"q":12,"k":16,"v":0},
{"q":13,"k":1,"v":0},{"q":13,"k":2,"v":0},{"q":13,"k":3,"v":0},{"q":13,"k":4,"v":0},{"q":13,"k":5,"v":0},{"q":13,"k":6,"v":0},{"q":13,"k":7,"v":0},{"q":13,"k":8,"v":0},{"q":13,"k":9,"v":0},{"q":13,"k":10,"v":0},{"q":13,"k":11,"v":0},{"q":13,"k":12,"v":0},{"q":13,"k":13,"v":0},{"q":13,"k":14,"v":0},{"q":13,"k":15,"v":0},{"q":13,"k":16,"v":0},
{"q":14,"k":1,"v":0},{"q":14,"k":2,"v":0},{"q":14,"k":3,"v":0},{"q":14,"k":4,"v":0},{"q":14,"k":5,"v":0},{"q":14,"k":6,"v":0},{"q":14,"k":7,"v":0},{"q":14,"k":8,"v":0},{"q":14,"k":9,"v":0},{"q":14,"k":10,"v":0},{"q":14,"k":11,"v":0},{"q":14,"k":12,"v":0},{"q":14,"k":13,"v":0},{"q":14,"k":14,"v":0},{"q":14,"k":15,"v":0},{"q":14,"k":16,"v":0},
{"q":15,"k":1,"v":0},{"q":15,"k":2,"v":0},{"q":15,"k":3,"v":0},{"q":15,"k":4,"v":0},{"q":15,"k":5,"v":0},{"q":15,"k":6,"v":0},{"q":15,"k":7,"v":0},{"q":15,"k":8,"v":0},{"q":15,"k":9,"v":0},{"q":15,"k":10,"v":0},{"q":15,"k":11,"v":0},{"q":15,"k":12,"v":0},{"q":15,"k":13,"v":0},{"q":15,"k":14,"v":0},{"q":15,"k":15,"v":0},{"q":15,"k":16,"v":0},
{"q":16,"k":1,"v":0},{"q":16,"k":2,"v":0},{"q":16,"k":3,"v":0},{"q":16,"k":4,"v":0},{"q":16,"k":5,"v":0},{"q":16,"k":6,"v":0},{"q":16,"k":7,"v":0},{"q":16,"k":8,"v":0},{"q":16,"k":9,"v":0},{"q":16,"k":10,"v":0},{"q":16,"k":11,"v":0},{"q":16,"k":12,"v":0},{"q":16,"k":13,"v":0},{"q":16,"k":14,"v":0},{"q":16,"k":15,"v":0},{"q":16,"k":16,"v":0}
],
"cap":[
{"line":1,"s":"nl","t":"Figure 3:"},
{"line":1,"s":"b1","t":"Validation of theorem"},
{"line":1,"s":"c1","t":"1"},
{"line":1,"s":"b2","t":"and theorem"},
{"line":1,"s":"c2","t":"3"},
{"line":1,"s":"b3","t":"."},
{"line":1,"s":"nr","t":"(a) Mean attention weights for softmax attention across 1000"},
{"line":2,"s":"l2","t":"test examples with trigger at position 8. Dark regions indicate high attention mass concentrated on BOS (position 1)"},
{"line":3,"s":"l3","t":"at non-trigger positions. (b) Standard deviation of softmax attention weights shows negligible variance, confirming"},
{"line":4,"s":"l4","t":"stable sink behavior. (c) Mean attention weights for ReLU attention show no sink formation—attention on BOS"},
{"line":5,"s":"l5","t":"remains near zero. (d) Standard deviation for ReLU attention confirms consistent behavior across examples."}
]
},
"vconcat":[
{
"hconcat":[
{"data":{"name":"sm_mean"},"title":"Softmax: mean","width":224,"height":192,"mark":{"type":"rect"},
 "encoding":{
  "x":{"field":"k","type":"ordinal","scale":{"domain":[1,2,3,4,5,6,7,8,9,10,11,12,13,14,15,16],"paddingInner":0,"paddingOuter":0},"axis":{"values":[2,4,6,8,10,12,14,16],"labelAngle":0,"title":["Key positions","(a)"],"titleLineHeight":24,"titlePadding":2}},
  "y":{"field":"q","type":"ordinal","scale":{"domain":[1,2,3,4,5,6,7,8,9,10,11,12,13,14,15,16],"paddingInner":0,"paddingOuter":0},"axis":{"values":[2,4,6,8,10,12,14,16],"title":"Query positions","titlePadding":1}},
  "color":{"field":"v","type":"quantitative","scale":{"domain":[0,0.125,0.25,0.375,0.5,0.625,0.75,0.875,1],"range":["#f7fbff","#deebf7","#c6dbef","#9ecae1","#6baed6","#4292c6","#2171b5","#08519c","#08306b"]},"legend":{"title":null,"values":[0,0.2,0.4,0.6,0.8,1],"format":".1f","direction":"vertical"}}
 }},
{"data":{"name":"sm_std"},"title":"Softmax: std","width":224,"height":192,"mark":{"type":"rect"},
 "encoding":{
  "x":{"field":"k","type":"ordinal","scale":{"domain":[1,2,3,4,5,6,7,8,9,10,11,12,13,14,15,16],"paddingInner":0,"paddingOuter":0},"axis":{"values":[2,4,6,8,10,12,14,16],"labelAngle":0,"title":["Key positions","(b)"],"titleLineHeight":24,"titlePadding":2}},
  "y":{"field":"q","type":"ordinal","scale":{"domain":[1,2,3,4,5,6,7,8,9,10,11,12,13,14,15,16],"paddingInner":0,"paddingOuter":0},"axis":{"values":[2,4,6,8,10,12,14,16],"title":"Query positions","titlePadding":1}},
  "color":{"field":"v","type":"quantitative","scale":{"domain":[0,0.125,0.25,0.375,0.5,0.625,0.75,0.875,1],"range":["#f7fbff","#deebf7","#c6dbef","#9ecae1","#6baed6","#4292c6","#2171b5","#08519c","#08306b"]},"legend":{"title":null,"values":[0,0.2,0.4,0.6,0.8,1],"format":".1f","direction":"vertical"}}
 }},
{"data":{"name":"relu_mean"},"title":"ReLU: mean","width":224,"height":192,"mark":{"type":"rect"},
 "encoding":{
  "x":{"field":"k","type":"ordinal","scale":{"domain":[1,2,3,4,5,6,7,8,9,10,11,12,13,14,15,16],"paddingInner":0,"paddingOuter":0},"axis":{"values":[2,4,6,8,10,12,14,16],"labelAngle":0,"title":["Key positions","(c)"],"titleLineHeight":24,"titlePadding":2}},
  "y":{"field":"q","type":"ordinal","scale":{"domain":[1,2,3,4,5,6,7,8,9,10,11,12,13,14,15,16],"paddingInner":0,"paddingOuter":0},"axis":{"values":[2,4,6,8,10,12,14,16],"title":"Query positions","titlePadding":1}},
  "color":{"field":"v","type":"quantitative","scale":{"domain":[0,0.125,0.25,0.375,0.5,0.625,0.75,0.875,1],"range":["#f7fbff","#deebf7","#c6dbef","#9ecae1","#6baed6","#4292c6","#2171b5","#08519c","#08306b"]},"legend":{"title":null,"values":[0,0.2,0.4,0.6,0.8,1],"format":".1f","direction":"vertical"}}
 }},
{"data":{"name":"relu_std"},"title":"ReLU: std","width":224,"height":192,"mark":{"type":"rect"},
 "encoding":{
  "x":{"field":"k","type":"ordinal","scale":{"domain":[1,2,3,4,5,6,7,8,9,10,11,12,13,14,15,16],"paddingInner":0,"paddingOuter":0},"axis":{"values":[2,4,6,8,10,12,14,16],"labelAngle":0,"title":["Key positions","(d)"],"titleLineHeight":24,"titlePadding":2}},
  "y":{"field":"q","type":"ordinal","scale":{"domain":[1,2,3,4,5,6,7,8,9,10,11,12,13,14,15,16],"paddingInner":0,"paddingOuter":0},"axis":{"values":[2,4,6,8,10,12,14,16],"title":"Query positions","titlePadding":1}},
  "color":{"field":"v","type":"quantitative","scale":{"domain":[0,0.125,0.25,0.375,0.5,0.625,0.75,0.875,1],"range":["#f7fbff","#deebf7","#c6dbef","#9ecae1","#6baed6","#4292c6","#2171b5","#08519c","#08306b"]},"legend":{"title":null,"values":[0,0.2,0.4,0.6,0.8,1],"format":".1f","direction":"vertical"}}
 }}
],
"spacing":31,
"resolve":{"scale":{"color":"independent"},"legend":{"color":"independent"}}
},
{
"data":{"name":"cap"},
"width":1309,"height":155,
"view":{"stroke":null},
"encoding":{
 "y":{"field":"line","type":"ordinal","scale":{"domain":[1,2,3,4,5],"paddingInner":0,"paddingOuter":0},"axis":null}
},
"layer":[
 {"transform":[{"filter":"datum.s==='nl'"}],"mark":{"type":"text","font":"Liberation Serif","fontSize":30,"align":"left","baseline":"middle","color":"#000"},"encoding":{"x":{"datum":11,"type":"quantitative","scale":{"domain":[69,1378],"nice":false,"zero":false},"axis":null},"text":{"field":"t"}}},
 {"transform":[{"filter":"datum.s==='b1'"}],"mark":{"type":"text","font":"Liberation Serif","fontSize":30,"fontWeight":"bold","align":"left","baseline":"middle","color":"#000"},"encoding":{"x":{"datum":132,"type":"quantitative"},"text":{"field":"t"}}},
 {"transform":[{"filter":"datum.s==='c1'"}],"mark":{"type":"text","font":"Liberation Serif","fontSize":30,"fontWeight":"bold","align":"left","baseline":"middle","color":"#141480"},"encoding":{"x":{"datum":418,"type":"quantitative"},"text":{"field":"t"}}},
 {"transform":[{"filter":"datum.s==='b2'"}],"mark":{"type":"text","font":"Liberation Serif","fontSize":30,"fontWeight":"bold","align":"left","baseline":"middle","color":"#000"},"encoding":{"x":{"datum":446,"type":"quantitative"},"text":{"field":"t"}}},
 {"transform":[{"filter":"datum.s==='c2'"}],"mark":{"type":"text","font":"Liberation Serif","fontSize":30,"fontWeight":"bold","align":"left","baseline":"middle","color":"#141480"},"encoding":{"x":{"datum":615,"type":"quantitative"},"text":{"field":"t"}}},
 {"transform":[{"filter":"datum.s==='b3'"}],"mark":{"type":"text","font":"Liberation Serif","fontSize":30,"fontWeight":"bold","align":"left","baseline":"middle","color":"#000"},"encoding":{"x":{"datum":630,"type":"quantitative"},"text":{"field":"t"}}},
 {"transform":[{"filter":"datum.s==='nr'"}],"mark":{"type":"text","font":"Liberation Serif","fontSize":30,"align":"right","baseline":"middle","color":"#000"},"encoding":{"x":{"datum":1378,"type":"quantitative"},"text":{"field":"t"}}},
 {"transform":[{"filter":"datum.s==='l2'"}],"mark":{"type":"text","font":"Liberation Serif","fontSize":29.4,"align":"left","baseline":"middle","color":"#000"},"encoding":{"x":{"datum":14,"type":"quantitative"},"text":{"field":"t"}}},
 {"transform":[{"filter":"datum.s==='l3'"}],"mark":{"type":"text","font":"Liberation Serif","fontSize":29.6,"align":"left","baseline":"middle","color":"#000"},"encoding":{"x":{"datum":14,"type":"quantitative"},"text":{"field":"t"}}},
 {"transform":[{"filter":"datum.s==='l4'"}],"mark":{"type":"text","font":"Liberation Serif","fontSize":30.5,"align":"left","baseline":"middle","color":"#000"},"encoding":{"x":{"datum":14,"type":"quantitative"},"text":{"field":"t"}}},
 {"transform":[{"filter":"datum.s==='l5'"}],"mark":{"type":"text","font":"Liberation Serif","fontSize":29.9,"align":"left","baseline":"middle","color":"#000"},"encoding":{"x":{"datum":14,"type":"quantitative"},"text":{"field":"t"}}}
]
}
],
"spacing":31
}
